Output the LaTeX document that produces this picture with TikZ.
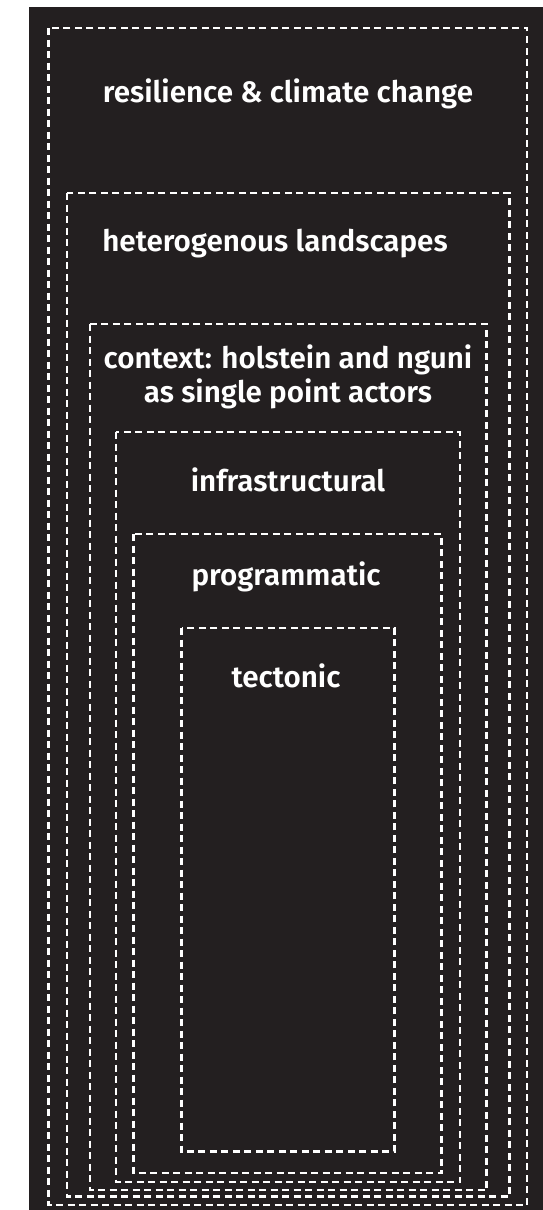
\documentclass[tikz,border=0pt]{standalone}
\usepackage{fontspec}
\setmainfont{Fira Sans}[BoldFont={Fira Sans SemiBold}]
\definecolor{bgdark}{HTML}{231F20}
\begin{document}
\begin{tikzpicture}[x=1pt, y=-1pt,
        layer/.style={draw=white, line width=2.5pt, dash pattern=on 7pt off 4.5pt},
        boxtext/.style={text=white, font=\bfseries\fontsize{29.6}{34}\selectfont, anchor=base, align=center}]
    % Background
    \useasboundingbox (0,0) rectangle (543,1210);
    \fill[bgdark] (29,7) rectangle (543,1210);
    % Nested layers, outer to inner
    \foreach \l/\t/\r/\b in {48.5/28/527/1205, 67/193/509.7/1196.7, 90/324/486.7/1190,
            116/432/460/1182, 133.5/534/441.5/1173, 181.5/628/394.5/1151.7}
        \draw[layer] (\l,\t) rectangle (\r,\b);
    % Layer titles
    \node[boxtext] (resilience) at (288,102) {resilience \& climate change};
    \node[boxtext] (landscapes) at (275,251) {heterogenous landscapes};
    \node[boxtext] (context) at (288,402) {context: holstein and nguni\\as single point actors};
    \node[boxtext] (infra) at (288,491) {infrastructural};
    \node[boxtext] (program) at (286,585) {programmatic};
    \node[boxtext] (tectonic) at (286,687) {tectonic};
\end{tikzpicture}
\end{document}
